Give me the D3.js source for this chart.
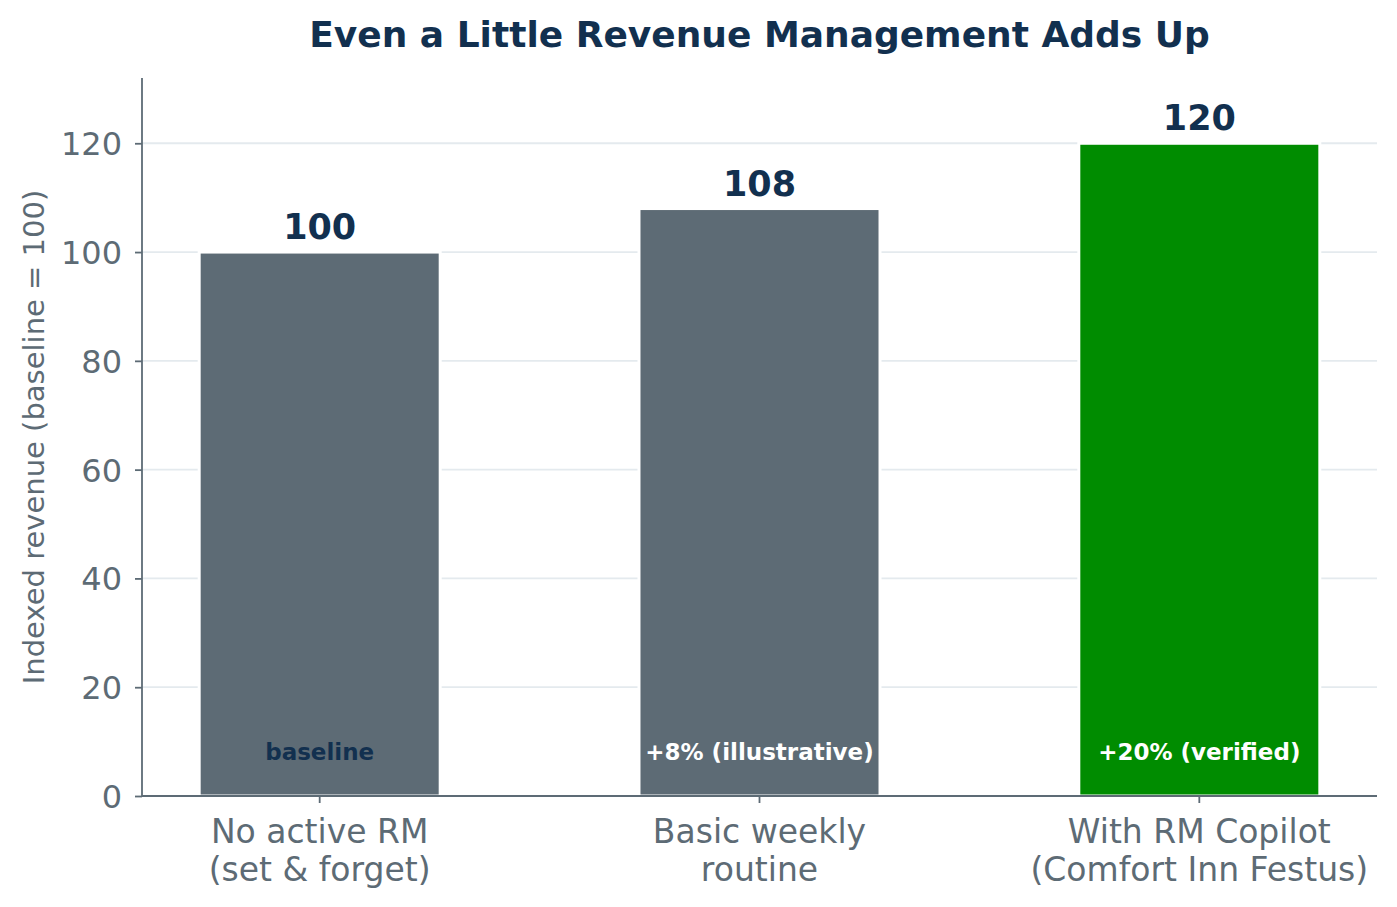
<!DOCTYPE html>
<html lang="en">
<head>
    <meta charset="UTF-8">
    <title>Even a Little Revenue Management Adds Up</title>
    <script src="https://cdnjs.cloudflare.com/ajax/libs/d3/7.8.5/d3.min.js" charset="utf-8"></script>
    <style>
        html, body { margin: 0; padding: 0; background: #fff; }
        svg { display: block; font-family: "DejaVu Sans", sans-serif; }
    </style>
</head>
<body>
<svg id="chart" width="1397" height="907"></svg>

<script type="application/javascript">
    // data
    var categories = [
        ['No active RM', '(set & forget)'],
        ['Basic weekly', 'routine'],
        ['With RM Copilot', '(Comfort Inn Festus)']
    ];
    var values = [100, 108, 120];
    var innerLabels = ['baseline', '+8% (illustrative)', '+20% (verified)'];
    var yTicks = [0, 20, 40, 60, 80, 100, 120];

    var color = {};
    color.gray = '#5D6B75';
    color.green = '#008C00';
    color.navy = '#12304F';
    color.grid = '#E4EAEE';

    var barColors = [color.gray, color.gray, color.green];
    var innerColors = [color.navy, '#ffffff', '#ffffff'];

    var plot = {};
    plot.left = 142;
    plot.right = 1377;
    plot.top = 78;
    plot.bottom = 796;

    var svg = d3.select('#chart');

    var x = d3.scaleBand()
            .domain(d3.range(categories.length))
            .range([plot.left, plot.right])
            .paddingInner(0.452)
            .paddingOuter(0.13);

    var y = d3.scaleLinear()
            .domain([0, 132])
            .range([plot.bottom, plot.top]);

    function cx(i) {
        return x(i) + x.bandwidth() / 2;
    }

    // grid
    svg.append('g')
            .selectAll('line')
            .data(yTicks)
            .enter()
            .append('line')
            .attr('x1', plot.left)
            .attr('x2', plot.right)
            .attr('y1', function (d) { return y(d); })
            .attr('y2', function (d) { return y(d); })
            .attr('stroke', color.grid)
            .attr('stroke-width', 1.8);

    // bars
    svg.append('g')
            .selectAll('rect')
            .data(values)
            .enter()
            .append('rect')
            .attr('x', function (d, i) { return x(i); })
            .attr('width', x.bandwidth())
            .attr('y', function (d) { return y(d); })
            .attr('height', function (d) { return y(0) - y(d); })
            .attr('fill', function (d, i) { return barColors[i]; })
            .attr('stroke', '#ffffff')
            .attr('stroke-width', 3);

    // y axis
    var yAxis = svg.append('g')
            .attr('transform', 'translate(' + plot.left + ',0)')
            .call(d3.axisLeft(y).tickValues(yTicks).tickSize(7).tickPadding(13));
    yAxis.select('.domain').attr('d', 'M0,' + plot.top + 'V' + plot.bottom);

    // x axis
    var xAxis = svg.append('g')
            .attr('transform', 'translate(0,' + plot.bottom + ')')
            .call(d3.axisBottom(x).tickSize(7).tickFormat(''));
    xAxis.select('.domain').attr('d', 'M' + plot.left + ',0H' + plot.right);

    svg.selectAll('.domain, .tick line')
            .attr('stroke', color.gray)
            .attr('stroke-width', 1.8);
    yAxis.selectAll('.tick text')
            .attr('fill', color.gray)
            .attr('font-size', '32px')
            .attr('dy', '0.36em')
            .attr('font-family', '"DejaVu Sans", sans-serif');

    // category labels (two lines)
    var catText = svg.append('g')
            .selectAll('text')
            .data(categories)
            .enter()
            .append('text')
            .attr('x', function (d, i) { return cx(i); })
            .attr('y', plot.bottom + 47)
            .attr('text-anchor', 'middle')
            .attr('font-size', '33px')
            .attr('fill', color.gray);
    catText.selectAll('tspan')
            .data(function (d) { return d; })
            .enter()
            .append('tspan')
            .attr('x', function () { return d3.select(this.parentNode).attr('x'); })
            .attr('dy', function (d, j) { return j === 0 ? 0 : '1.15em'; })
            .text(function (d) { return d; });

    // value labels above bars
    svg.append('g')
            .selectAll('text')
            .data(values)
            .enter()
            .append('text')
            .attr('x', function (d, i) { return cx(i); })
            .attr('y', function (d) { return y(d) - 13; })
            .attr('text-anchor', 'middle')
            .attr('font-size', '35px')
            .attr('font-weight', 'bold')
            .attr('fill', color.navy)
            .text(function (d) { return d; });

    // labels inside bars
    svg.append('g')
            .selectAll('text')
            .data(innerLabels)
            .enter()
            .append('text')
            .attr('x', function (d, i) { return cx(i); })
            .attr('y', y(8) + 8)
            .attr('text-anchor', 'middle')
            .attr('font-size', '23px')
            .attr('font-weight', 'bold')
            .attr('fill', function (d, i) { return innerColors[i]; })
            .text(function (d) { return d; });

    // y axis title
    svg.append('text')
            .attr('transform', 'translate(44,' + ((plot.top + plot.bottom) / 2) + ') rotate(-90)')
            .attr('text-anchor', 'middle')
            .attr('font-size', '29px')
            .attr('fill', color.gray)
            .text('Indexed revenue (baseline = 100)');

    // title
    svg.append('text')
            .attr('x', (plot.left + plot.right) / 2)
            .attr('y', 47)
            .attr('text-anchor', 'middle')
            .attr('font-size', '36px')
            .attr('font-weight', 'bold')
            .attr('fill', color.navy)
            .text('Even a Little Revenue Management Adds Up');
</script>
</body>
</html>
